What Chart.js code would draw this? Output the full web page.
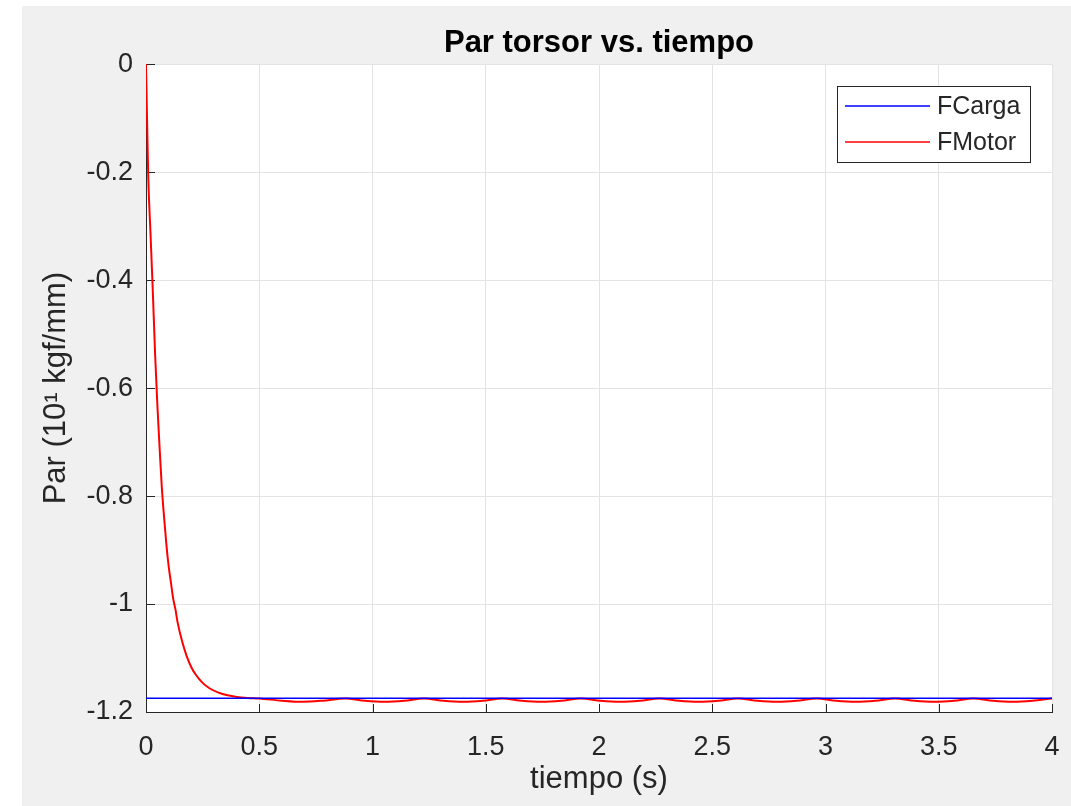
<!DOCTYPE html>
<html><head><meta charset="utf-8">
<script src="https://cdn.jsdelivr.net/npm/chart.js@4.4.1/dist/chart.umd.min.js"></script>
<style>
html,body{margin:0;padding:0;background:#fff;}
#wrap{position:absolute;left:22px;top:6px;width:1049px;height:800px;background:#f0f0f0;}
canvas{display:block;}
</style></head><body>
<div id="wrap"><canvas id="c" width="1049" height="800"></canvas></div>
<script>
const titleText = 'Par torsor vs. tiempo';
const xTitle = 'tiempo (s)';
const yTitle = 'Par (10\u00b9 kgf/mm)';
const xTicks = [0, 0.5, 1, 1.5, 2, 2.5, 3, 3.5, 4];
const xTickLabels = ['0', '0.5', '1', '1.5', '2', '2.5', '3', '3.5', '4'];
const yTicks = [0, -0.2, -0.4, -0.6, -0.8, -1, -1.2];
const yTickLabels = ['0', '-0.2', '-0.4', '-0.6', '-0.8', '-1', '-1.2'];
const seriesNames = ['FCarga', 'FMotor'];
const seriesColors = ['#0000ff', '#ff0000'];

const tCarga = [0, 4];
const fCarga = [-1.1747, -1.1747];

const tMotor = [0, 0.005, 0.01, 0.02, 0.03, 0.04, 0.05, 0.06, 0.07, 0.08, 0.09, 0.10, 0.11, 0.12, 0.13, 0.14,
  0.16, 0.18, 0.20, 0.22, 0.25, 0.28, 0.32, 0.36, 0.40, 0.45, 0.50,
  0.60, 0.69, 0.78, 0.88, 0.967, 1.053, 1.14, 1.227, 1.313, 1.40, 1.487, 1.573, 1.66, 1.747, 1.833, 1.92,
  2.007, 2.093, 2.18, 2.267, 2.353, 2.44, 2.527, 2.613, 2.70, 2.787, 2.873, 2.96, 3.047, 3.133, 3.22, 3.307,
  3.393, 3.48, 3.567, 3.653, 3.74, 3.827, 3.913, 4.0];
const fMotor = [0, -0.11, -0.21, -0.315, -0.42, -0.535, -0.63, -0.71, -0.785, -0.84, -0.89, -0.93, -0.96, -0.99, -1.01, -1.035,
  -1.07, -1.097, -1.117, -1.131, -1.146, -1.156, -1.164, -1.169, -1.172, -1.174, -1.1752,
  -1.179, -1.181, -1.179, -1.175, -1.1792, -1.181, -1.1792, -1.175, -1.1792, -1.181, -1.1792, -1.175, -1.1792, -1.181, -1.1792, -1.175,
  -1.1792, -1.181, -1.1792, -1.175, -1.1792, -1.181, -1.1792, -1.175, -1.1792, -1.181, -1.1792, -1.175, -1.1792, -1.181, -1.1792, -1.175,
  -1.1792, -1.181, -1.1792, -1.175, -1.1792, -1.181, -1.1792, -1.175];

const FONT = "'Liberation Sans', Arial, Helvetica, sans-serif";
const AX = '#262626';

const bgPlugin = {
  id: 'bg',
  beforeDraw(chart) {
    const {ctx, chartArea: a} = chart;
    ctx.save(); ctx.fillStyle = '#ffffff';
    ctx.fillRect(a.left, a.top, a.right - a.left, a.bottom - a.top);
    ctx.restore();
  },
  beforeDatasetsDraw(chart) {
    const {ctx, chartArea: a, scales} = chart;
    ctx.save(); ctx.strokeStyle = AX; ctx.lineWidth = 1;
    ctx.beginPath();
    xTicks.forEach(v => {
      const px = Math.round(scales.x.getPixelForValue(v)) + 0.5;
      ctx.moveTo(px, a.bottom); ctx.lineTo(px, a.bottom - 8);
    });
    yTicks.forEach(v => {
      const py = Math.round(scales.y.getPixelForValue(v)) + 0.5;
      ctx.moveTo(a.left, py); ctx.lineTo(a.left + 9, py);
    });
    ctx.stroke(); ctx.restore();
  },
  afterDraw(chart) {
    const {ctx, chartArea: a} = chart;
    const w = 193, h = 76;
    const x0 = Math.round(a.right - 22 - w), y0 = Math.round(a.top + 22);
    ctx.save();
    ctx.fillStyle = '#fff'; ctx.fillRect(x0, y0, w, h);
    ctx.strokeStyle = AX; ctx.lineWidth = 1; ctx.strokeRect(x0 + 0.5, y0 + 0.5, w, h);
    ctx.font = '25px ' + FONT; ctx.textBaseline = 'middle'; ctx.textAlign = 'left';
    seriesNames.forEach((n, i) => {
      const y = y0 + 20 + i * 36;
      ctx.strokeStyle = seriesColors[i]; ctx.lineWidth = 1.5;
      ctx.beginPath(); ctx.moveTo(x0 + 8, y); ctx.lineTo(x0 + 93, y); ctx.stroke();
      ctx.fillStyle = AX; ctx.fillText(n, x0 + 100, y + 1);
    });
    ctx.restore();
  }
};

new Chart(document.getElementById('c'), {
  type: 'line',
  data: {
    datasets: [
      {label: seriesNames[0], data: tCarga.map((t, i) => ({x: t, y: fCarga[i]})),
       borderColor: seriesColors[0], borderWidth: 1.5, pointRadius: 0, fill: false},
      {label: seriesNames[1], data: tMotor.map((t, i) => ({x: t, y: fMotor[i]})),
       borderColor: seriesColors[1], borderWidth: 2, pointRadius: 0, fill: false, cubicInterpolationMode: 'monotone'}
    ]
  },
  options: {
    responsive: false, animation: false, devicePixelRatio: 1,
    layout: {padding: {left: 0, right: 19, top: 0, bottom: 0}},
    plugins: {
      legend: {display: false},
      tooltip: {enabled: false},
      title: {display: true, text: titleText, color: '#000', fullSize: false,
              font: {family: FONT, size: 31, weight: 'bold'}, padding: {top: 19, bottom: 2}}
    },
    scales: {
      x: {
        type: 'linear', min: 0, max: 4,
        afterBuildTicks: s => { s.ticks = xTicks.map(v => ({value: v})); },
        afterFit: s => { s.height = 94; s.paddingLeft = 0; s.paddingRight = 0; },
        ticks: {callback: v => xTickLabels[xTicks.indexOf(v)], font: {family: FONT, size: 27}, color: AX,
                padding: 19, maxRotation: 0, autoSkip: false},
        grid: {color: '#e3e3e3', lineWidth: 1, drawTicks: false},
        border: {color: AX, width: 1},
        title: {display: true, text: xTitle, font: {family: FONT, size: 31}, color: AX, padding: {top: 0, bottom: 8}}
      },
      y: {
        type: 'linear', min: -1.2, max: 0,
        afterBuildTicks: s => { s.ticks = yTicks.map(v => ({value: v})); },
        afterFit: s => { s.width = 124; s.paddingTop = 0; s.paddingBottom = 0; },
        ticks: {callback: v => yTickLabels[yTicks.indexOf(v)], font: {family: FONT, size: 27}, color: AX,
                padding: 13, autoSkip: false},
        grid: {color: '#e3e3e3', lineWidth: 1, drawTicks: false},
        border: {color: AX, width: 1},
        title: {display: true, text: yTitle, font: {family: FONT, size: 31}, color: AX, padding: {top: 16, bottom: 0}}
      }
    }
  },
  plugins: [bgPlugin]
});
</script>
</body></html>
